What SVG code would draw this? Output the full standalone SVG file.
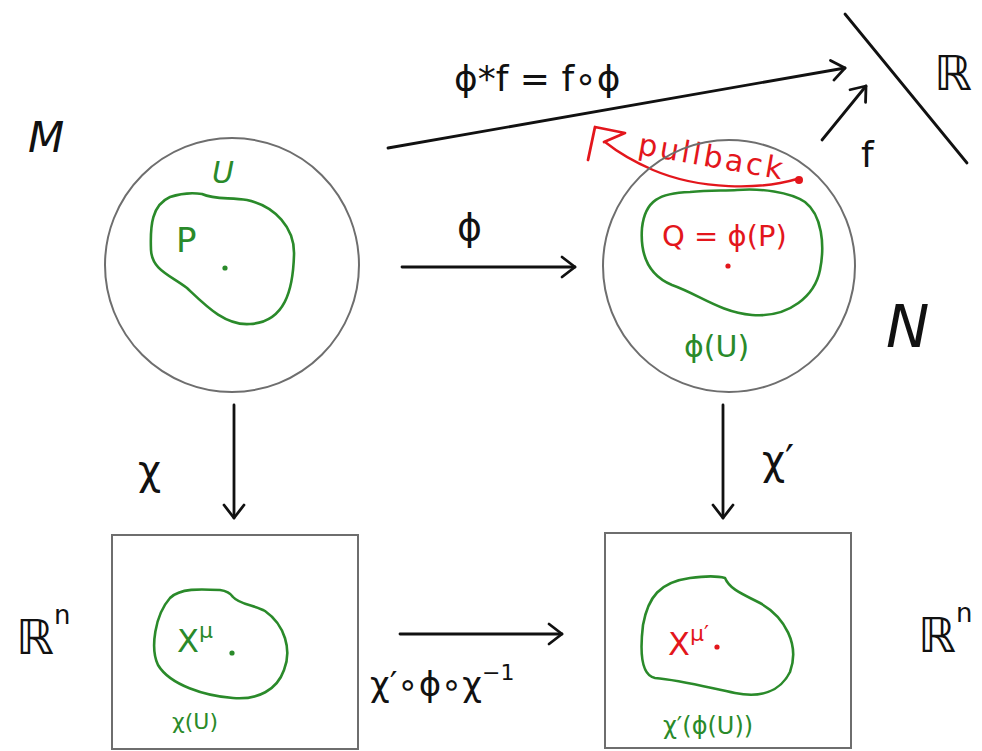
<svg xmlns="http://www.w3.org/2000/svg" width="982" height="751" viewBox="0 0 982 751">
<style>
.ink{fill:none;stroke:#111;stroke-width:2.8;stroke-linecap:round}
.frame{fill:none;stroke:#6e6e6e;stroke-width:2}
.blob{fill:none;stroke:#2a8a2a;stroke-width:2.6;stroke-linejoin:round}
.t{font-family:"DejaVu Sans",sans-serif;fill:#111}
.g{fill:#2a8a2a}
.r{fill:#e3161c}
</style>
<defs>
<marker id="chev" viewBox="0 0 20 24" refX="18" refY="12" markerWidth="20" markerHeight="24" markerUnits="userSpaceOnUse" orient="auto">
<path d="M5,2 L18,12 L5,22" fill="none" stroke="#111" stroke-width="2.8" stroke-linecap="round" stroke-linejoin="round"/>
</marker>
</defs>
<rect width="982" height="751" fill="#fff"/>

<g id="connectors">
<line class="ink" x1="388" y1="148" x2="845" y2="68" marker-end="url(#chev)"/>
<line class="ink" x1="822" y1="140" x2="866" y2="86" marker-end="url(#chev)"/>
<line class="ink" x1="402" y1="267" x2="575" y2="267" marker-end="url(#chev)"/>
<line class="ink" x1="234" y1="405" x2="234" y2="518" marker-end="url(#chev)"/>
<line class="ink" x1="723" y1="405" x2="723" y2="518" marker-end="url(#chev)"/>
<line class="ink" x1="400" y1="634" x2="562" y2="634" marker-end="url(#chev)"/>
<line class="ink" x1="845" y1="14" x2="967" y2="163"/>
<g id="pullback">
<path d="M797,179 C760,190 700,190 653,170 C630,160 615,150 605,142" fill="none" stroke="#e3161c" stroke-width="2.4" stroke-linecap="round"/>
<path d="M588,160 L595,127 L625,133 L604,142" fill="none" stroke="#e3161c" stroke-width="2.8" stroke-linecap="round" stroke-linejoin="round"/>
<circle cx="799" cy="180" r="4" fill="#e3161c"/>
<text class="t r" x="637" y="154" font-size="30" textLength="146" lengthAdjust="spacing" transform="rotate(10 637 154)">pullback</text>
</g>
<text class="t" x="454" y="91" font-size="36">ϕ*f = f∘ϕ</text>
<text class="t" x="861" y="167" font-size="36">f</text>
<text class="t" x="457" y="240" font-size="38">ϕ</text>
<text class="t" x="138" y="484" font-size="40">χ</text>
<text class="t" x="762" y="474" font-size="40">χ′</text>
<text class="t" x="370" y="696" font-size="34">χ′∘ϕ∘χ<tspan font-size="22" dy="-16">−1</tspan></text>
</g>

<g id="R">
<text class="t" x="934" y="90" font-size="48">ℝ</text>
</g>

<g id="M">
<circle class="frame" cx="232" cy="265" r="127"/>
<text class="t" x="28" y="152" font-size="42" font-style="italic">M</text>
<path class="blob" d="M202,194 C215,200 230,197 247,200 C275,206 295,228 294,255 C293,290 285,322 250,324 C225,326 205,305 187,288 C170,275 152,270 151,250 C150,225 152,205 170,197 C185,192 195,193 202,194 Z"/>
<text class="t g" x="212" y="183" font-size="30" font-style="italic">U</text>
<text class="t g" x="176" y="252" font-size="34">P</text>
<circle cx="225" cy="268" r="2.6" fill="#2a8a2a"/>
</g>

<g id="N">
<circle class="frame" cx="729" cy="266" r="126"/>
<text class="t" x="886" y="347" font-size="58" font-style="italic">N</text>
<path class="blob" d="M737,190 C760,188 790,192 805,202 C822,215 825,245 820,270 C815,295 790,318 752,315 C720,312 700,295 672,285 C648,275 640,255 642,228 C645,200 660,193 690,192 C710,190 725,191 737,190 Z"/>
<text class="t r" x="662" y="246" font-size="29">Q = ϕ(P)</text>
<circle cx="728" cy="266" r="2.6" fill="#e3161c"/>
<text class="t g" x="684" y="357" font-size="30">ϕ(U)</text>
</g>

<g id="Rn1">
<rect class="frame" x="112" y="535" width="246" height="214"/>
<text class="t" x="16" y="654" font-size="48">ℝ<tspan font-size="26" dy="-30">n</tspan></text>
<path class="blob" d="M233,597 C240,605 255,605 265,611 C285,625 292,650 284,670 C277,690 258,700 233,698 C205,696 170,685 158,665 C150,648 155,615 170,598 C180,588 200,589 220,590 C228,591 231,594 233,597 Z"/>
<text class="t g" x="177" y="652" font-size="32">X<tspan font-size="22" dy="-14">μ</tspan></text>
<circle cx="232" cy="653" r="2.6" fill="#2a8a2a"/>
<text class="t g" x="172" y="729" font-size="22">χ(U)</text>
</g>

<g id="Rn2">
<rect class="frame" x="605" y="533" width="246" height="215"/>
<text class="t" x="918" y="652" font-size="48">ℝ<tspan font-size="26" dy="-30">n</tspan></text>
<path class="blob" d="M725,578 C730,590 745,595 760,603 C785,617 800,645 790,672 C780,692 760,698 735,693 C710,688 680,680 655,678 C640,675 640,650 643,625 C648,597 660,582 690,578 C705,576 718,576 725,578 Z"/>
<text class="t r" x="668" y="655" font-size="32">X<tspan font-size="22" dy="-14">μ′</tspan></text>
<circle cx="717" cy="647" r="2.6" fill="#e3161c"/>
<text class="t g" x="663" y="734" font-size="24">χ′(ϕ(U))</text>
</g>
</svg>
